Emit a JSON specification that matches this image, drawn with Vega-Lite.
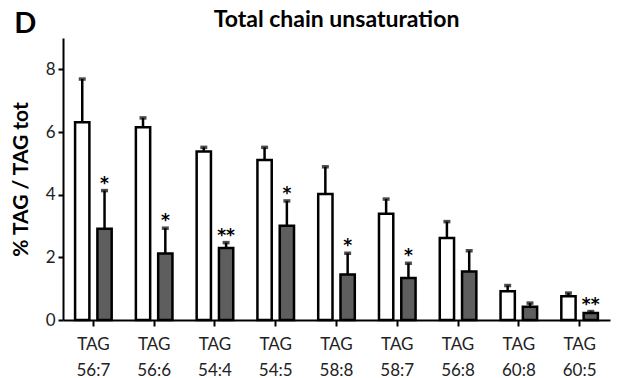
{
  "$schema": "https://vega.github.io/schema/vega-lite/v6.json",
  "padding": {"left": 10, "top": 9, "right": 4, "bottom": 0},
  "title": {
    "text": "D",
    "anchor": "start",
    "frame": "bounds",
    "font": "Lato",
    "fontSize": 29,
    "fontWeight": "bold",
    "color": "#000",
    "offset": -28,
    "dx": 4,
    "dy": 2
  },
  "config": {
    "view": {"stroke": null},
    "font": "Lato"
  },
  "vconcat": [
    {
      "width": 547,
      "height": 282,
      "title": {
        "text": "Total chain unsaturation",
        "font": "Lato",
        "fontSize": 23,
        "fontWeight": "bold",
        "color": "#000",
        "anchor": "middle",
        "offset": 6
      },
      "data": {
        "values": [
          {"lipid": "TAG 56:7", "group": "control", "value": 6.31, "top": 7.69, "sig": ""},
          {"lipid": "TAG 56:7", "group": "treated", "value": 2.91, "top": 4.13, "sig": "*"},
          {"lipid": "TAG 56:6", "group": "control", "value": 6.15, "top": 6.45, "sig": ""},
          {"lipid": "TAG 56:6", "group": "treated", "value": 2.12, "top": 2.93, "sig": "*"},
          {"lipid": "TAG 54:4", "group": "control", "value": 5.38, "top": 5.51, "sig": ""},
          {"lipid": "TAG 54:4", "group": "treated", "value": 2.30, "top": 2.47, "sig": "**"},
          {"lipid": "TAG 54:5", "group": "control", "value": 5.11, "top": 5.51, "sig": ""},
          {"lipid": "TAG 54:5", "group": "treated", "value": 3.01, "top": 3.80, "sig": "*"},
          {"lipid": "TAG 58:8", "group": "control", "value": 4.02, "top": 4.89, "sig": ""},
          {"lipid": "TAG 58:8", "group": "treated", "value": 1.45, "top": 2.13, "sig": "*"},
          {"lipid": "TAG 58:7", "group": "control", "value": 3.39, "top": 3.86, "sig": ""},
          {"lipid": "TAG 58:7", "group": "treated", "value": 1.34, "top": 1.81, "sig": "*"},
          {"lipid": "TAG 56:8", "group": "control", "value": 2.62, "top": 3.14, "sig": ""},
          {"lipid": "TAG 56:8", "group": "treated", "value": 1.55, "top": 2.21, "sig": ""},
          {"lipid": "TAG 60:8", "group": "control", "value": 0.92, "top": 1.10, "sig": ""},
          {"lipid": "TAG 60:8", "group": "treated", "value": 0.42, "top": 0.54, "sig": ""},
          {"lipid": "TAG 60:5", "group": "control", "value": 0.76, "top": 0.86, "sig": ""},
          {"lipid": "TAG 60:5", "group": "treated", "value": 0.22, "top": 0.27, "sig": "**"}
        ]
      },
      "encoding": {
        "x": {
          "field": "lipid",
          "type": "nominal",
          "sort": null,
          "scale": {"paddingInner": 0.398, "paddingOuter": 0.199},
          "axis": {
            "title": null,
            "labelAngle": 0,
            "labelExpr": "split(datum.label, ' ')",
            "labelFont": "Lato",
            "labelFontSize": 17,
            "labelLineHeight": 26,
            "labelColor": "#222",
            "labelPadding": 10,
            "tickSize": 6,
            "tickWidth": 2,
            "tickColor": "#000",
            "domainColor": "#000",
            "domainWidth": 2
          }
        },
        "xOffset": {
          "field": "group",
          "type": "nominal",
          "sort": ["control", "treated"],
          "scale": {"paddingInner": 0.359, "paddingOuter": 0}
        }
      },
      "layer": [
        {
          "mark": {"type": "bar", "stroke": "#000", "strokeWidth": 2.5},
          "encoding": {
            "y": {
              "field": "value",
              "type": "quantitative",
              "scale": {"domain": [0, 9], "nice": false},
              "axis": {
                "values": [0, 2, 4, 6, 8],
                "grid": false,
                "title": "% TAG / TAG tot",
                "titleFont": "Lato",
                "titleFontSize": 21,
                "titleFontWeight": "bold",
                "titleColor": "#000",
                "titlePadding": 14,
                "labelFont": "Lato",
                "labelFontSize": 17,
                "labelColor": "#222",
                "labelPadding": 3,
                "tickSize": 5,
                "tickWidth": 2,
                "tickColor": "#000",
                "domainColor": "#000",
                "domainWidth": 2
              }
            },
            "fill": {
              "field": "group",
              "type": "nominal",
              "scale": {"domain": ["control", "treated"], "range": ["#ffffff", "#5e5e5e"]},
              "legend": null
            }
          }
        },
        {
          "mark": {"type": "rule", "color": "#000", "strokeWidth": 2.5},
          "encoding": {
            "y": {"field": "value", "type": "quantitative"},
            "y2": {"field": "top"}
          }
        },
        {
          "mark": {"type": "tick", "color": "#000", "size": 7, "thickness": 3.5},
          "encoding": {
            "y": {"field": "top", "type": "quantitative"}
          }
        },
        {
          "mark": {
            "type": "text",
            "font": "DejaVu Sans",
            "fontSize": 17,
            "fontWeight": "bold",
            "color": "#000",
            "baseline": "alphabetic",
            "dy": -2
          },
          "encoding": {
            "y": {"field": "top", "type": "quantitative"},
            "text": {"field": "sig"}
          }
        }
      ]
    }
  ]
}
